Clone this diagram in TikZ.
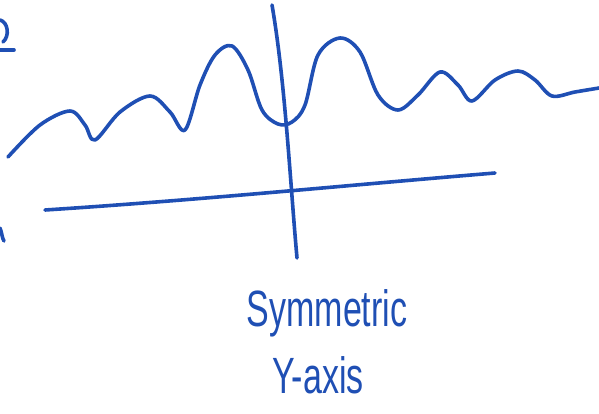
\documentclass[tikz,border=0pt]{standalone}
\usepackage{fontspec}
\setmainfont{Liberation Sans}
\definecolor{pen}{HTML}{1F4FB4}
\begin{document}
\begin{tikzpicture}[x=1pt,y=-1pt,
  ink/.style={draw=pen,line width=3.6pt,line cap=round,line join=round},
  lbl/.style={text=pen,font=\fontsize{34}{40}\selectfont,inner sep=0pt}]
\useasboundingbox (0,0) rectangle (599,414);
% fragments at left edge
\draw[ink] (0,20) .. controls (8,22) and (10,36) .. (3,42);
\draw[ink] (0,50) -- (14,50);
\draw[ink] (0,228) .. controls (2,233) and (2,238) .. (4,241);
% curve
\draw[ink] plot[smooth,tension=0.55] coordinates {
 (8,157) (40,125) (70,111) (85,125) (95,140) (120,112) (150,96) (170,112)
 (185,130) (200,85) (215,55) (232,46) (248,70) (262,110) (278,124) (292,122)
 (305,105) (318,55) (340,38) (360,52) (378,95) (398,110) (418,95) (440,72)
 (458,85) (472,101) (495,80) (518,71) (535,80) (552,96) (575,92) (599,88)};
% axes
\coordinate (xa) at (45,210);
\coordinate (xb) at (495,173);
\coordinate (ya) at (272,5);
\coordinate (yb) at (297,258);
\draw[ink] (xa) .. controls (200,200) and (350,185) .. (xb);
\draw[ink] (ya) .. controls (285,80) and (290,180) .. (yb);
\node[lbl] (t1) at (327,313) {\scalebox{1}[1.5]{Symmetric}};
\node[lbl] (t2) at (318,375) {\scalebox{1}[1.5]{Y-axis}};
\end{tikzpicture}
\end{document}
